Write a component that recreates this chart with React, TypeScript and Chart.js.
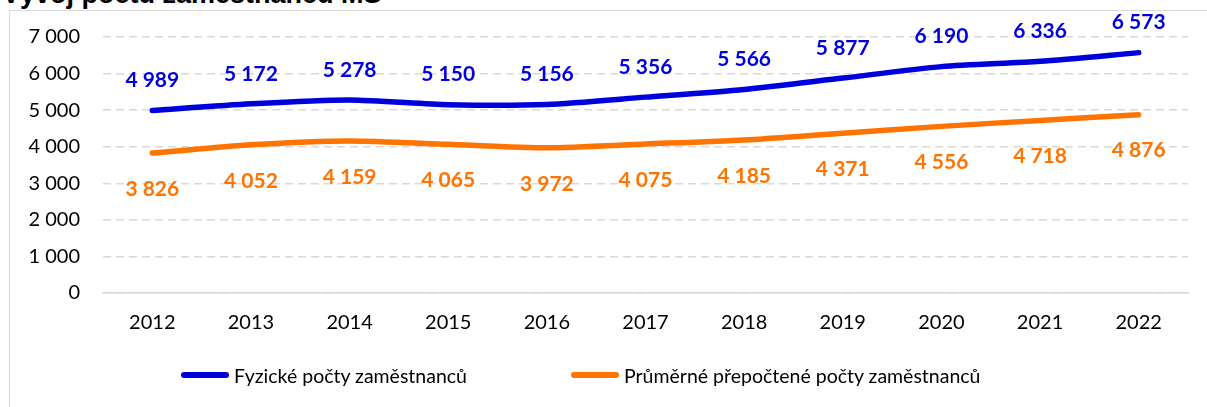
import React, { useEffect, useRef } from "react";
import { Chart, registerables } from "chart.js";

Chart.register(...registerables);

const title = "Vývoj počtu zaměstnanců MS";
const years = ["2012", "2013", "2014", "2015", "2016", "2017", "2018", "2019", "2020", "2021", "2022"];
const fyzicke = [4989, 5172, 5278, 5150, 5156, 5356, 5566, 5877, 6190, 6336, 6573];
const prumerne = [3826, 4052, 4159, 4065, 3972, 4075, 4185, 4371, 4556, 4718, 4876];
const seriesNames = ["Fyzické počty zaměstnanců", "Průměrné přepočtené počty zaměstnanců"];
const yMin = 0;
const yMax = 7000;
const yStep = 1000;

const BLUE = "#0000DD";
const ORANGE = "#FF7400";
const GRID = "#D9D9D9";
const FONT = "Lato, 'Open Sans', sans-serif";

const fmt = (v: number) => String(v).replace(/\B(?=(\d{3})+(?!\d))/g, " ");

const valueLabels = {
  id: "valueLabels",
  afterDatasetsDraw(chart: any) {
    const ctx = chart.ctx;
    chart.data.datasets.forEach((ds: any, i: number) => {
      const meta = chart.getDatasetMeta(i);
      const off = i === 0 ? -30 : 36;
      ctx.save();
      ctx.font = `bold 21px ${FONT}`;
      ctx.fillStyle = ds.borderColor;
      ctx.textAlign = "center";
      ctx.textBaseline = "middle";
      meta.data.forEach((pt: any, j: number) => {
        ctx.fillText(fmt(ds.data[j]), pt.x, pt.y + off);
      });
      ctx.restore();
    });
  },
};

export default function App() {
  const ref = useRef<HTMLCanvasElement | null>(null);

  useEffect(() => {
    if (!ref.current) return;
    const chart = new Chart(ref.current, {
      type: "line",
      data: {
        labels: years,
        datasets: [
          {
            label: seriesNames[0],
            data: fyzicke,
            borderColor: BLUE,
            backgroundColor: BLUE,
            borderWidth: 5.5,
            borderCapStyle: "round",
            borderJoinStyle: "round",
            pointRadius: 0,
            tension: 0.25,
          },
          {
            label: seriesNames[1],
            data: prumerne,
            borderColor: ORANGE,
            backgroundColor: ORANGE,
            borderWidth: 5.5,
            borderCapStyle: "round",
            borderJoinStyle: "round",
            pointRadius: 0,
            tension: 0.25,
          },
        ],
      },
      options: {
        responsive: false,
        animation: false,
        devicePixelRatio: 1,
        layout: { padding: { top: 37, right: 19, left: 0, bottom: 0 } },
        plugins: {
          legend: { display: false },
          tooltip: { enabled: false },
          title: { display: false },
        },
        scales: {
          x: {
            offset: true,
            grid: { display: false, drawTicks: false },
            border: { display: true, color: GRID, width: 1.5 },
            ticks: {
              color: "#000",
              font: { family: FONT, size: 20 },
              padding: 18,
              maxRotation: 0,
              autoSkip: false,
            },
            afterFit: (s: any) => {
              s.height = 114;
            },
          },
          y: {
            min: yMin,
            max: yMax,
            grid: { color: GRID, lineWidth: 1.5, drawTicks: false },
            border: { display: false, dash: [8, 5] },
            ticks: {
              stepSize: yStep,
              color: "#000",
              font: { family: FONT, size: 20 },
              padding: 23,
              callback: (v: any) => fmt(Number(v)),
            },
            afterFit: (s: any) => {
              s.width = 103;
            },
          },
        },
      },
      plugins: [valueLabels],
    } as any);
    return () => chart.destroy();
  }, []);

  const legendItem = (name: string, color: string, left: number) => (
    <div
      style={{
        position: "absolute",
        left,
        top: 363,
        height: 24,
        display: "flex",
        alignItems: "center",
        font: `19.5px ${FONT}`,
        color: "#000",
        whiteSpace: "nowrap",
      }}
    >
      <span
        style={{
          display: "inline-block",
          width: 48,
          height: 5.5,
          borderRadius: 3,
          background: color,
          marginRight: 5,
        }}
      />
      <span>{name}</span>
    </div>
  );

  return (
    <div
      style={{
        position: "fixed",
        left: 0,
        top: 0,
        width: 1207,
        height: 407,
        background: "#fff",
        overflow: "hidden",
      }}
    >
      <div
        style={{
          position: "absolute",
          left: 9,
          top: 10,
          width: 1300,
          height: 500,
          borderLeft: `1.5px solid ${GRID}`,
          borderTop: `1.5px solid ${GRID}`,
        }}
      />
      <div
        style={{
          position: "absolute",
          left: 2,
          top: -19,
          font: "bold 27px 'Liberation Sans', Arial, sans-serif",
          lineHeight: "27px",
          color: "#000",
          whiteSpace: "nowrap",
        }}
      >
        {title}
      </div>
      <canvas
        ref={ref}
        width={1207}
        height={407}
        style={{ position: "absolute", left: 0, top: 0, width: 1207, height: 407 }}
      />
      {legendItem(seriesNames[0], BLUE, 181)}
      {legendItem(seriesNames[1], ORANGE, 571)}
    </div>
  );
}
